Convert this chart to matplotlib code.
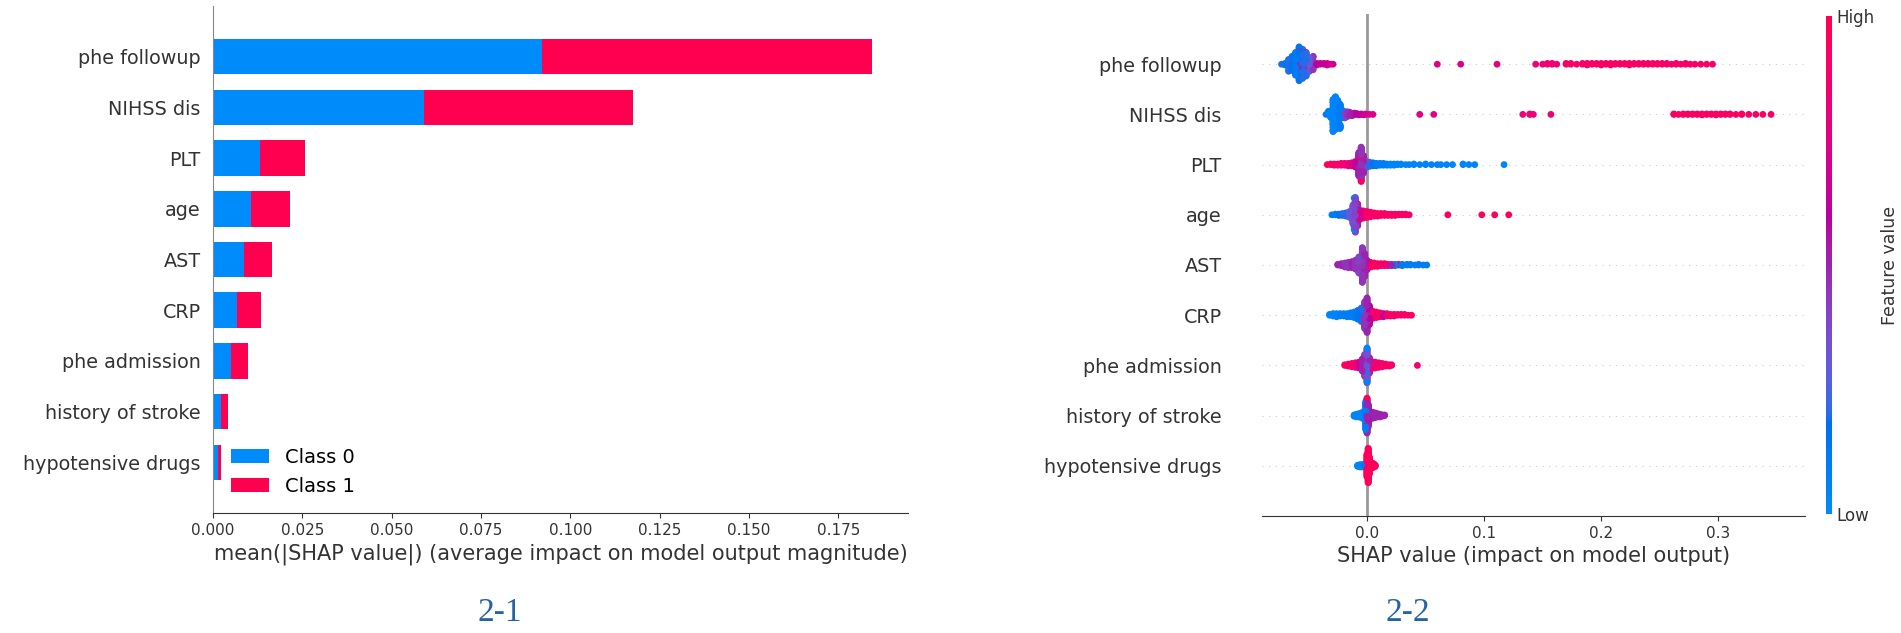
import numpy as np
import matplotlib
matplotlib.use("Agg")
import matplotlib.pyplot as plt
from matplotlib.colors import LinearSegmentedColormap
from matplotlib.cm import ScalarMappable

# ------------------------------------------------------------------
# Data
# ------------------------------------------------------------------
features = ["phe followup", "NIHSS dis", "PLT", "age", "AST", "CRP",
            "phe admission", "history of stroke", "hypotensive drugs"]

# panel 2-1 : mean(|SHAP value|) per class (stacked)
class0_mean = [0.0921, 0.0591, 0.0131, 0.0107, 0.0086, 0.0066, 0.0049, 0.0021, 0.0013]
class1_mean = [0.0923, 0.0585, 0.0126, 0.0109, 0.0080, 0.0068, 0.0049, 0.0022, 0.0009]
bar_ticks = [0.000, 0.025, 0.050, 0.075, 0.100, 0.125, 0.150, 0.175]

# panel 2-2 : swarm points as (SHAP value, number of points, feature value 0-1)
phe_followup_pts = [
    (-0.073, 1, 0.2), (-0.070, 3, 0.15), (-0.067, 6, 0.2), (-0.064, 14, 0.15),
    (-0.061, 30, 0.1), (-0.058, 40, 0.15), (-0.058, 4, 0.5), (-0.055, 38, 0.2),
    (-0.052, 28, 0.2), (-0.052, 3, 0.55), (-0.049, 14, 0.3), (-0.046, 6, 0.45),
    (-0.043, 3, 0.6), (-0.040, 2, 0.65), (-0.037, 2, 0.65), (-0.034, 2, 0.7),
    (-0.031, 1, 0.7), (-0.029, 1, 0.7),
    (0.060, 1, 0.75), (0.080, 1, 0.75), (0.111, 1, 0.78), (0.144, 1, 0.85),
    (0.150, 1, 0.85), (0.154, 2, 0.85), (0.158, 2, 0.85), (0.162, 1, 0.85),
    (0.170, 2, 0.9), (0.174, 2, 0.9), (0.179, 1, 0.9), (0.184, 2, 0.9),
    (0.188, 3, 0.9), (0.192, 2, 0.9), (0.196, 2, 0.9), (0.200, 3, 0.9),
    (0.204, 2, 0.9), (0.208, 3, 0.9), (0.212, 2, 0.9), (0.216, 2, 0.9),
    (0.220, 2, 0.9), (0.224, 3, 0.9), (0.228, 2, 0.9), (0.232, 2, 0.9),
    (0.236, 2, 0.9), (0.240, 2, 0.9), (0.244, 2, 0.9), (0.248, 2, 0.9),
    (0.252, 2, 0.9), (0.256, 2, 0.9), (0.260, 1, 0.9), (0.264, 2, 0.9),
    (0.268, 1, 0.9), (0.272, 2, 0.9), (0.276, 1, 0.9), (0.280, 1, 0.9),
    (0.285, 1, 0.9), (0.290, 1, 0.9), (0.295, 1, 0.9),
]
nihss_dis_pts = [
    (-0.035, 1, 0.1), (-0.033, 4, 0.1), (-0.031, 12, 0.05), (-0.029, 35, 0.05),
    (-0.027, 45, 0.05), (-0.025, 40, 0.1), (-0.023, 25, 0.1), (-0.021, 10, 0.2),
    (-0.019, 8, 0.4), (-0.017, 7, 0.45), (-0.015, 5, 0.5), (-0.013, 4, 0.5),
    (-0.011, 3, 0.55), (-0.009, 2, 0.6), (-0.007, 2, 0.6), (-0.005, 2, 0.65),
    (-0.003, 1, 0.7), (-0.001, 2, 0.7), (0.002, 1, 0.75), (0.005, 1, 0.75),
    (0.045, 1, 0.78), (0.057, 1, 0.78), (0.133, 1, 0.82), (0.139, 2, 0.82),
    (0.142, 1, 0.82), (0.157, 1, 0.82),
    (0.262, 2, 0.92), (0.266, 1, 0.92), (0.270, 2, 0.92), (0.274, 2, 0.92),
    (0.278, 2, 0.92), (0.282, 2, 0.92), (0.286, 3, 0.92), (0.290, 2, 0.92),
    (0.294, 2, 0.92), (0.298, 3, 0.92), (0.302, 2, 0.92), (0.306, 2, 0.92),
    (0.310, 2, 0.92), (0.315, 1, 0.92), (0.320, 2, 0.92), (0.326, 1, 0.92),
    (0.332, 1, 0.92), (0.338, 1, 0.92), (0.345, 1, 0.92),
]
plt_pts = [
    (-0.034, 1, 0.95), (-0.031, 2, 0.95), (-0.028, 3, 0.9), (-0.025, 3, 0.9),
    (-0.022, 4, 0.85), (-0.019, 4, 0.85), (-0.016, 5, 0.8), (-0.013, 6, 0.75),
    (-0.010, 10, 0.65), (-0.007, 40, 0.5), (-0.005, 50, 0.45), (-0.005, 8, 0.95),
    (-0.003, 30, 0.5), (-0.001, 12, 0.35), (0.002, 8, 0.2), (0.005, 6, 0.15),
    (0.008, 5, 0.1), (0.011, 4, 0.1), (0.014, 4, 0.1), (0.017, 3, 0.1),
    (0.020, 3, 0.05), (0.023, 3, 0.05), (0.026, 2, 0.05), (0.029, 2, 0.05),
    (0.033, 1, 0.05), (0.036, 1, 0.05), (0.040, 2, 0.05), (0.045, 1, 0.05),
    (0.050, 2, 0.05), (0.055, 1, 0.05), (0.060, 1, 0.05), (0.063, 1, 0.05),
    (0.068, 1, 0.05), (0.073, 1, 0.05), (0.082, 2, 0.05), (0.087, 1, 0.05),
    (0.092, 1, 0.05), (0.117, 1, 0.05),
]
age_pts = [
    (-0.030, 1, 0.1), (-0.027, 2, 0.1), (-0.024, 3, 0.15), (-0.021, 4, 0.2),
    (-0.018, 6, 0.2), (-0.015, 10, 0.3), (-0.012, 30, 0.35), (-0.011, 10, 0.05),
    (-0.010, 45, 0.4), (-0.008, 35, 0.5), (-0.006, 15, 0.7), (-0.003, 12, 0.85),
    (0.000, 10, 0.9), (0.003, 8, 0.9), (0.006, 6, 0.9), (0.009, 5, 0.9),
    (0.012, 4, 0.9), (0.015, 4, 0.9), (0.018, 3, 0.9), (0.021, 3, 0.9),
    (0.024, 3, 0.9), (0.027, 2, 0.9), (0.030, 2, 0.9), (0.033, 2, 0.9),
    (0.036, 1, 0.9), (0.069, 1, 0.95), (0.098, 1, 0.95), (0.109, 1, 0.95),
    (0.121, 1, 0.95),
]
ast_pts = [
    (-0.025, 2, 0.5), (-0.022, 4, 0.5), (-0.019, 7, 0.45), (-0.016, 9, 0.45),
    (-0.013, 10, 0.5), (-0.010, 14, 0.45), (-0.007, 25, 0.4), (-0.004, 45, 0.45),
    (-0.004, 8, 0.1), (-0.002, 35, 0.5), (0.000, 15, 0.55), (0.003, 8, 0.9),
    (0.006, 6, 0.95), (0.009, 5, 0.9), (0.012, 4, 0.9), (0.015, 4, 0.85),
    (0.018, 3, 0.9), (0.021, 3, 0.5), (0.024, 3, 0.1), (0.027, 2, 0.9),
    (0.030, 3, 0.1), (0.034, 2, 0.1), (0.037, 2, 0.1), (0.041, 1, 0.1),
    (0.044, 2, 0.1), (0.048, 1, 0.1), (0.051, 1, 0.1),
]
crp_pts = [
    (-0.032, 2, 0.05), (-0.029, 4, 0.05), (-0.026, 5, 0.05), (-0.023, 4, 0.1),
    (-0.020, 4, 0.1), (-0.017, 5, 0.1), (-0.014, 6, 0.1), (-0.011, 8, 0.1),
    (-0.008, 12, 0.15), (-0.005, 18, 0.2), (-0.002, 35, 0.45), (0.000, 45, 0.5),
    (0.002, 25, 0.6), (0.005, 10, 0.85), (0.008, 8, 0.9), (0.011, 6, 0.9),
    (0.014, 5, 0.6), (0.017, 4, 0.9), (0.020, 3, 0.9), (0.023, 3, 0.9),
    (0.026, 2, 0.9), (0.029, 2, 0.9), (0.032, 2, 0.9), (0.035, 1, 0.9),
    (0.038, 1, 0.9),
]
phe_admission_pts = [
    (-0.019, 2, 0.95), (-0.016, 4, 0.9), (-0.013, 6, 0.9), (-0.010, 8, 0.85),
    (-0.007, 10, 0.7), (-0.004, 20, 0.5), (-0.002, 35, 0.4), (0.000, 45, 0.35),
    (0.000, 10, 0.05), (0.002, 25, 0.5), (0.004, 12, 0.8), (0.007, 10, 0.9),
    (0.010, 8, 0.85), (0.013, 6, 0.9), (0.016, 4, 0.9), (0.019, 3, 0.9),
    (0.021, 2, 0.9), (0.043, 1, 0.85),
]
history_stroke_pts = [
    (-0.011, 3, 0.05), (-0.009, 5, 0.05), (-0.007, 6, 0.05), (-0.005, 8, 0.05),
    (-0.003, 12, 0.05), (-0.001, 45, 0.1), (0.000, 50, 0.5), (0.000, 5, 0.95),
    (0.001, 35, 0.55), (0.003, 12, 0.5), (0.005, 10, 0.5), (0.007, 8, 0.5),
    (0.009, 6, 0.5), (0.011, 5, 0.5), (0.013, 3, 0.5), (0.015, 2, 0.5),
]
hypotensive_pts = [
    (-0.008, 3, 0.05), (-0.006, 5, 0.05), (-0.004, 5, 0.05), (-0.002, 6, 0.1),
    (0.000, 40, 0.95), (0.001, 60, 0.95), (0.002, 30, 0.95), (0.003, 12, 0.95),
    (0.004, 10, 0.95), (0.005, 8, 0.95), (0.006, 6, 0.95), (0.007, 3, 0.95),
]
swarm_rows = [phe_followup_pts, nihss_dis_pts, plt_pts, age_pts, ast_pts,
              crp_pts, phe_admission_pts, history_stroke_pts, hypotensive_pts]
swarm_ticks = [0.0, 0.1, 0.2, 0.3]

BLUE = "#008bfb"
RED = "#ff0051"
AXIS = "#333333"


# ------------------------------------------------------------------
# shap-like red/blue colormap (interpolated in LCH space)
# ------------------------------------------------------------------
def lch2rgb(l, c, h):
    a, b = c * np.cos(h), c * np.sin(h)
    fy = (l + 16) / 116
    fx, fz = fy + a / 500, fy - b / 200

    def finv(t):
        return t ** 3 if t > 6 / 29 else 3 * (6 / 29) ** 2 * (t - 4 / 29)

    xyz = np.array([0.95047 * finv(fx), finv(fy), 1.08883 * finv(fz)])
    m = np.array([[3.2406, -1.5372, -0.4986],
                  [-0.9689, 1.8758, 0.0415],
                  [0.0557, -0.2040, 1.0570]])
    rgb = m @ xyz
    rgb = np.where(rgb > 0.0031308, 1.055 * np.abs(rgb) ** (1 / 2.4) - 0.055, 12.92 * rgb)
    return np.clip(rgb, 0, 1)


def red_blue_cmap(nsteps=100):
    blue_lch = [54., 70., 4.6588]
    red_lch = [54., 90., 0.35470565 + 2 * np.pi]
    l_mid = 40.
    ls = list(np.linspace(blue_lch[0], l_mid, nsteps // 2)) + list(np.linspace(l_mid, red_lch[0], nsteps // 2))
    cs = np.linspace(blue_lch[1], red_lch[1], nsteps)
    hs = np.linspace(blue_lch[2], red_lch[2], nsteps)
    cols = [lch2rgb(l, c, h) for l, c, h in zip(ls, cs, hs)]
    return LinearSegmentedColormap.from_list("red_blue", cols)


def swarm_offsets(x, nbins=100, row_height=0.4):
    """beeswarm stacking, same idea as shap.summary_plot"""
    n = len(x)
    quant = np.round(nbins * (x - x.min()) / (x.max() - x.min() + 1e-8))
    mix = (np.arange(n) * 0.618034) % 1 * 0.1   # deterministic tie break
    ys = np.zeros(n)
    layer, last_bin = 0, -1
    for i in np.argsort(quant + mix, kind="stable"):
        if quant[i] != last_bin:
            layer = 0
        ys[i] = np.ceil(layer / 2) * ((layer % 2) * 2 - 1)
        layer += 1
        last_bin = quant[i]
    ys *= 0.9 * (row_height / np.max(ys + 1))
    return ys


# ------------------------------------------------------------------
# figure
# ------------------------------------------------------------------
W, H = 1901, 633
fig = plt.figure(figsize=(W / 100, H / 100), dpi=100)
plt.rcParams["font.family"] = ["DejaVu Sans"]


def box(x0, y0, x1, y1):
    # pixel box -> figure fraction
    return [x0 / W, 1 - y1 / H, (x1 - x0) / W, (y1 - y0) / H]


# ---------------- panel 2-1 : stacked bars ----------------
ax1 = fig.add_axes(box(213, 6, 908, 513))
ypos = np.arange(len(features))[::-1]
ax1.barh(ypos, class0_mean, 0.7, color=BLUE, label="Class 0")
ax1.barh(ypos, class1_mean, 0.7, left=class0_mean, color=RED, label="Class 1")
ax1.set_ylim(-1, len(features))
ax1.set_xlim(0, 0.1945)
ax1.set_xticks(bar_ticks)
ax1.set_xticklabels([f"{t:.3f}" for t in bar_ticks])
ax1.set_yticks(ypos)
ax1.set_yticklabels(features, fontsize=13.8, color=AXIS)
ax1.tick_params("y", length=0, pad=9)
ax1.tick_params("x", labelsize=11, color=AXIS, labelcolor=AXIS)
for s in ("top", "right"):
    ax1.spines[s].set_visible(False)
ax1.spines["left"].set_color("#888888")
ax1.spines["bottom"].set_color(AXIS)
ax1.set_xlabel("mean(|SHAP value|) (average impact on model output magnitude)",
               fontsize=15, color=AXIS, labelpad=4)
ax1.legend(loc="lower left", frameon=False, fontsize=14)

# ---------------- panel 2-2 : beeswarm ----------------
cmap = red_blue_cmap()
ax2 = fig.add_axes(box(1262, 14, 1805, 516))
ax2.axvline(0, color="#999999", lw=2, zorder=-1)
for row, pts in enumerate(swarm_rows):
    pos = len(features) - 1 - row
    ax2.axhline(pos, color="#cccccc", lw=0.8, dashes=(1, 5), zorder=-1)
    xs = np.repeat([p[0] for p in pts], [p[1] for p in pts]).astype(float)
    vs = np.repeat([p[2] for p in pts], [p[1] for p in pts]).astype(float)
    ys = swarm_offsets(xs)
    draw = np.argsort((np.arange(len(xs)) * 0.754877) % 1)
    ax2.scatter(xs[draw], pos + ys[draw], c=vs[draw], cmap=cmap, vmin=0, vmax=1,
                s=24, linewidth=0, zorder=3)
ax2.set_ylim(-1, len(features))
ax2.set_xlim(-0.0897, 0.374)
ax2.set_xticks(swarm_ticks)
ax2.set_yticks(ypos)
ax2.set_yticklabels(features, fontsize=13.8, color=AXIS)
ax2.tick_params("y", length=0, pad=29)
ax2.tick_params("x", labelsize=11, color=AXIS, labelcolor=AXIS)
for s in ("top", "right", "left"):
    ax2.spines[s].set_visible(False)
ax2.spines["bottom"].set_color(AXIS)
ax2.set_xlabel("SHAP value (impact on model output)", fontsize=15, color=AXIS, labelpad=4)

# colour bar
cax = fig.add_axes(box(1826, 16, 1832, 514))
cb = fig.colorbar(ScalarMappable(cmap=cmap, norm=plt.Normalize(0, 1)), cax=cax, ticks=[0, 1])
cb.set_ticklabels(["Low", "High"])
cb.ax.tick_params(labelsize=12, length=0, labelcolor=AXIS)
cb.set_label("Feature value", size=12.5, labelpad=4, color=AXIS)
cb.outline.set_visible(False)

# panel captions
fig.text(500 / W, 1 - 613 / H, "2-1", fontsize=24, family="Liberation Serif",
         color="#2563a6", ha="center", va="center")
fig.text(1408 / W, 1 - 613 / H, "2-2", fontsize=24, family="Liberation Serif",
         color="#2563a6", ha="center", va="center")

fig.savefig("out.png", dpi=100)
